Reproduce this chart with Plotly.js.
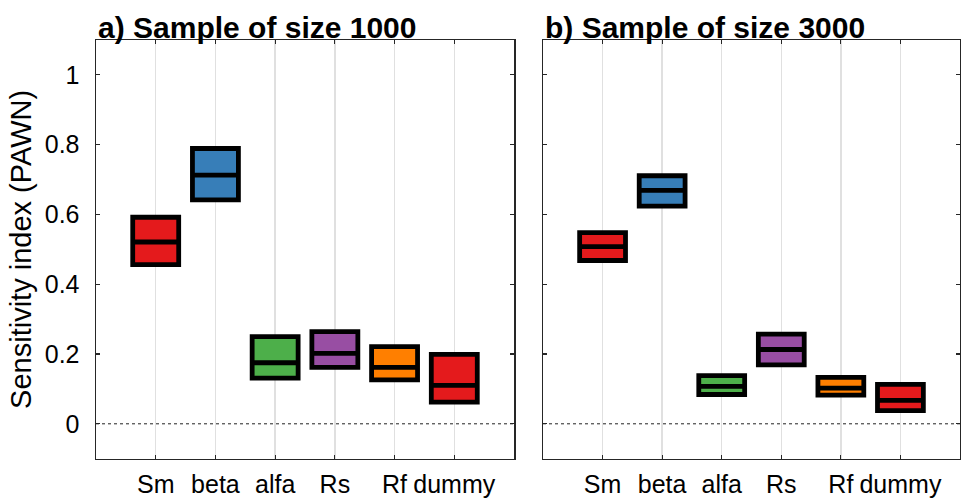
<!DOCTYPE html>
<html>
<head>
<meta charset="utf-8">
<script src="https://cdn.plot.ly/plotly-3.0.1.min.js"></script>
<style>html,body{margin:0;padding:0;background:#fff;}#chart{width:961px;height:501px;}</style>
</head>
<body>
<div id="chart"></div>
<script>
// ---- data ----
const categories = ['Sm', 'beta', 'alfa', 'Rs', 'Rf', 'dummy'];
const panelTitles = ['a) Sample of size 1000', 'b) Sample of size 3000'];
const yTickVals = [0, 0.2, 0.4, 0.6, 0.8, 1];
const yTickText = ['0', '0.2', '0.4', '0.6', '0.8', '1'];

// sample size 1000
const q1_1000  = [0.456, 0.642, 0.131, 0.162, 0.126, 0.062];
const med_1000 = [0.521, 0.713, 0.175, 0.202, 0.162, 0.110];
const q3_1000  = [0.592, 0.789, 0.250, 0.264, 0.221, 0.199];
// sample size 3000
const q1_3000  = [0.468, 0.624, 0.084, 0.169, 0.082, 0.038];
const med_3000 = [0.508, 0.669, 0.107, 0.213, 0.102, 0.067];
const q3_3000  = [0.548, 0.711, 0.138, 0.257, 0.133, 0.113];

// ---- styles ----
const boxColors = ['#e41a1c', '#377eb8', '#4daf4a', '#984ea3', '#ff7f00', '#e41a1c'];
const FONT = '"Liberation Sans", Arial, Helvetica, sans-serif';
const AXC = '#262626';

const xpos = categories.map((c, i) => i + 1);

function boxes(q1, med, q3, xa, ya) {
  return categories.map((c, i) => ({
    type: 'box',
    name: c,
    x: [xpos[i]],
    q1: [q1[i]], median: [med[i]], q3: [q3[i]],
    lowerfence: [q1[i]], upperfence: [q3[i]],
    width: 0.77,
    whiskerwidth: 0,
    fillcolor: boxColors[i],
    line: {color: '#000', width: 4.8},
    xaxis: xa, yaxis: ya,
    showlegend: false,
    hoverinfo: 'skip'
  }));
}

const data = [].concat(
  boxes(q1_1000, med_1000, q3_1000, 'x', 'y'),
  boxes(q1_3000, med_3000, q3_3000, 'x2', 'y2')
);

const W = 961, H = 501;
const yDom = [1 - 458.7 / H, 1 - 40 / H];

function xaxis(dom, anchor) {
  return {
    domain: dom, anchor: anchor, range: [0, 7],
    tickvals: xpos, ticktext: categories,
    showgrid: true, gridcolor: '#e0e0e0', gridwidth: 1.5,
    zeroline: false,
    showline: true, linecolor: AXC, linewidth: 1.5, mirror: 'ticks',
    ticks: 'inside', ticklen: 4, tickcolor: AXC, tickwidth: 1.2,
    ticklabelstandoff: 3,
    tickfont: {family: FONT, size: 25, color: '#000'},
    fixedrange: true
  };
}
function yaxis(anchor, labels) {
  return {
    domain: yDom, anchor: anchor, range: [-0.1, 1.1],
    tickvals: yTickVals, ticktext: yTickText,
    showticklabels: labels,
    showgrid: false, zeroline: false,
    showline: true, linecolor: AXC, linewidth: 1.5, mirror: 'ticks',
    ticks: 'inside', ticklen: 4, tickcolor: AXC, tickwidth: 1.2,
    ticklabelstandoff: 10,
    tickfont: {family: FONT, size: 25, color: '#000'},
    fixedrange: true
  };
}

const layout = {
  width: W, height: H,
  margin: {l: 0, r: 0, t: 0, b: 0},
  paper_bgcolor: '#fff', plot_bgcolor: '#fff',
  showlegend: false,
  boxmode: 'overlay',
  xaxis: xaxis([96 / W, 514 / W], 'y'),
  yaxis: Object.assign(yaxis('x', true), {
    title: {text: 'Sensitivity index (PAWN)', standoff: 4,
            font: {family: FONT, size: 29, color: '#000'}}
  }),
  xaxis2: xaxis([543 / W, 960 / W], 'y2'),
  yaxis2: yaxis('x2', false),
  shapes: [
    {type: 'line', xref: 'x domain', yref: 'y', x0: 0, x1: 1, y0: 0, y1: 0,
     line: {color: '#222', width: 1, dash: 'dot'}, layer: 'below'},
    {type: 'line', xref: 'x2 domain', yref: 'y2', x0: 0, x1: 1, y0: 0, y1: 0,
     line: {color: '#222', width: 1, dash: 'dot'}, layer: 'below'}
  ],
  annotations: [
    {text: '<b>' + panelTitles[0] + '</b>', xref: 'x domain', yref: 'y domain',
     x: 0, y: 1, xanchor: 'left', yanchor: 'bottom', showarrow: false, yshift: -6,
     font: {family: FONT, size: 30, color: '#000'}},
    {text: '<b>' + panelTitles[1] + '</b>', xref: 'x2 domain', yref: 'y2 domain',
     x: 0, y: 1, xanchor: 'left', yanchor: 'bottom', showarrow: false, yshift: -6,
     font: {family: FONT, size: 30, color: '#000'}}
  ]
};

Plotly.newPlot('chart', data, layout, {staticPlot: true, displayModeBar: false});
</script>
</body>
</html>
